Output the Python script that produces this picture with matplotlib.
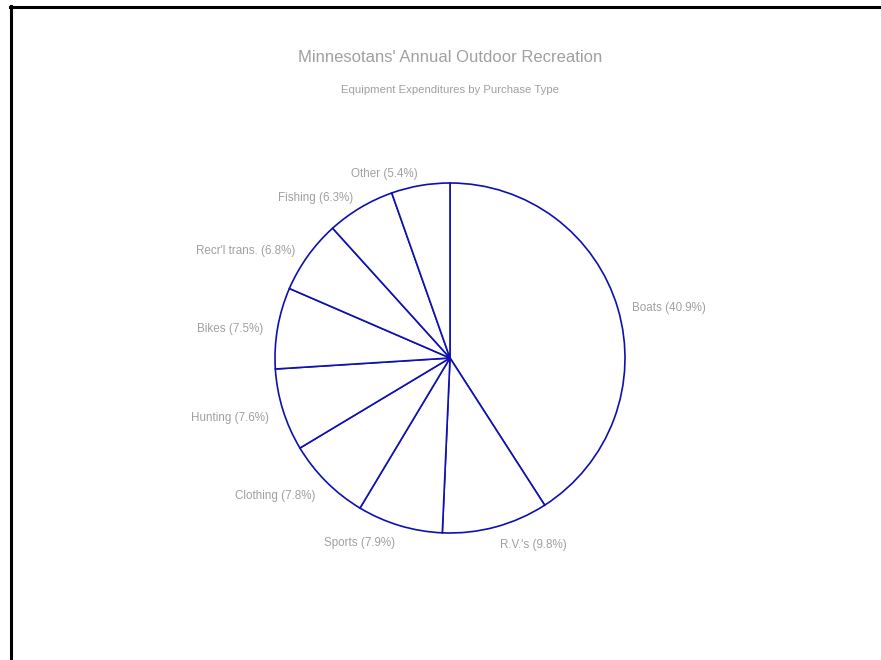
import matplotlib
matplotlib.use("Agg")
import matplotlib.pyplot as plt
from matplotlib.lines import Line2D

plt.rcParams["font.family"] = ["Liberation Sans", "DejaVu Sans"]

categories = ["Boats", "R.V.'s", "Sports", "Clothing", "Hunting",
              "Bikes", "Recr'l trans.", "Fishing", "Other"]
shares = [40.9, 9.8, 7.9, 7.8, 7.6, 7.5, 6.8, 6.3, 5.4]
labels = [f"{c} ({v}%)" for c, v in zip(categories, shares)]

W, H = 881, 660
cx, cy_top, r = 450, 358, 175  # pie centre / radius in pixels

fig = plt.figure(figsize=(W / 100, H / 100), dpi=100)
ax = fig.add_axes([0, 0, 1, 1])

wedges, texts = ax.pie(
    shares,
    labels=labels,
    startangle=90,
    counterclock=False,
    colors=["white"] * len(shares),
    wedgeprops=dict(edgecolor="#1010b0", linewidth=1.2),
    labeldistance=1.085,
    textprops=dict(color="#a0a0a0", fontsize=8.4),
)
# labels sit a little lower in the original
for t in texts:
    x, y = t.get_position()
    t.set_position((x, y - 3.5 / r))

ax.set_xlim(-cx / r, (W - cx) / r)
ax.set_ylim(-(H - cy_top) / r, cy_top / r)
ax.axis("off")

fig.text(cx / W, 1 - 57 / H, "Minnesotans' Annual Outdoor Recreation",
         ha="center", va="center", color="#a0a0a0", fontsize=12)
fig.text(cx / W, 1 - 90 / H, "Equipment Expenditures by Purchase Type",
         ha="center", va="center", color="#a0a0a0", fontsize=8.2)

# black frame on top and left edges
fig.add_artist(Line2D([10 / W, 1], [1 - 7 / H, 1 - 7 / H],
                      color="black", linewidth=2.2, transform=fig.transFigure))
fig.add_artist(Line2D([11 / W, 11 / W], [0, 1 - 6 / H],
                      color="black", linewidth=2.2, transform=fig.transFigure))

fig.savefig("out.png", dpi=100)
